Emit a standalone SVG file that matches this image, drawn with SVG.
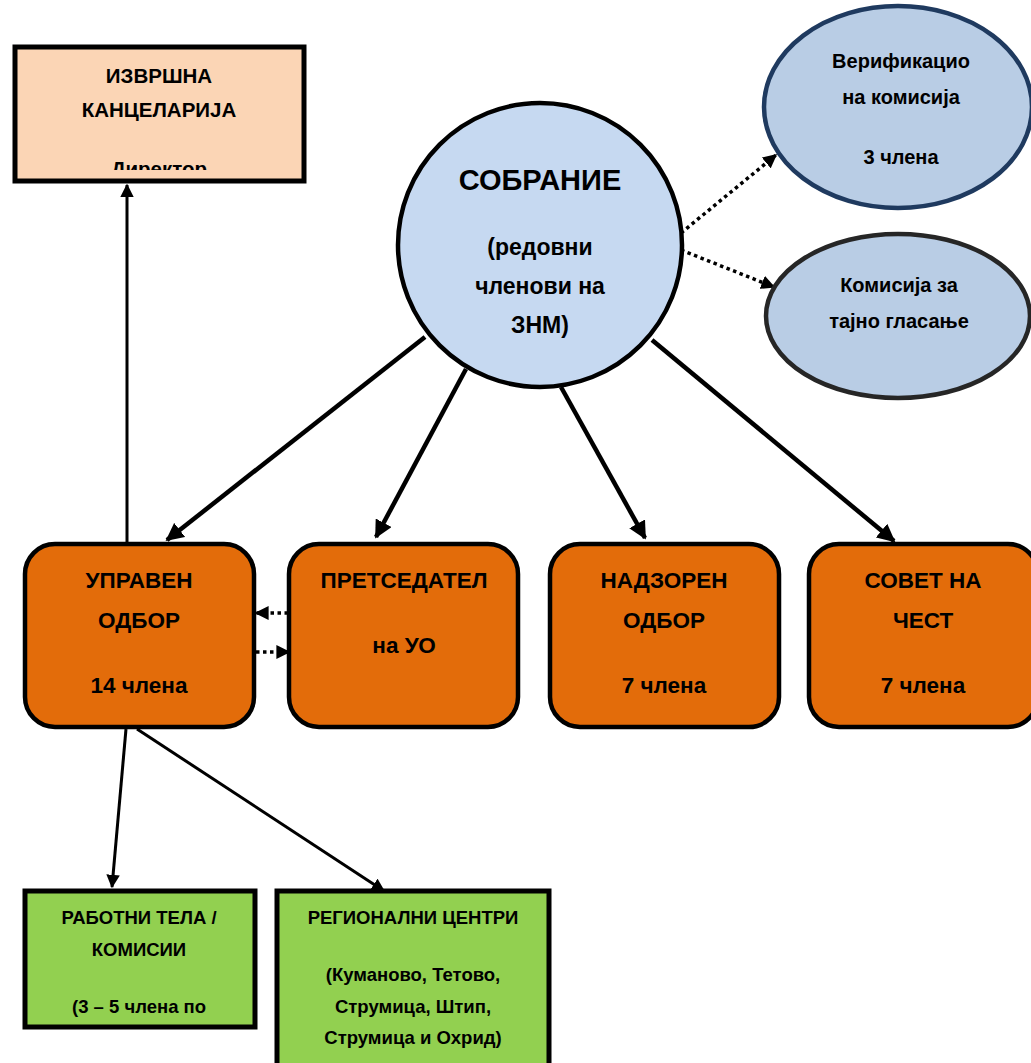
<svg xmlns="http://www.w3.org/2000/svg" width="1031" height="1063" viewBox="0 0 1031 1063">
<style>
text{font-family:"Liberation Sans","DejaVu Sans",sans-serif;font-weight:bold;fill:#000;text-anchor:middle}
.org{fill:#E36C0A;stroke:#000;stroke-width:4.5}
.grn{fill:#92D050;stroke:#000;stroke-width:5}
.c{stroke:#000;fill:none}
.dot{stroke:#000;stroke-width:3.5;stroke-dasharray:3.5 3.5;fill:none}
.o{font-size:22.5px}
.g{font-size:18.5px}
.e{font-size:20px}
</style>
<defs>
<marker id="ah" viewBox="0 0 10 10" refX="9" refY="5" markerWidth="4" markerHeight="4" orient="auto" markerUnits="strokeWidth"><path d="M0,0L10,5L0,10z" fill="#000"/></marker>
<marker id="ah2" viewBox="0 0 10 10" refX="9" refY="5" markerWidth="4.5" markerHeight="4.5" orient="auto" markerUnits="strokeWidth"><path d="M0,0L10,5L0,10z" fill="#000"/></marker>
<clipPath id="clipI"><rect x="15" y="47" width="289" height="123"/></clipPath>
</defs>

<g id="connectors">
<line class="c" x1="127" y1="543" x2="127" y2="185" stroke-width="3" marker-end="url(#ah2)"/>
<line class="c" x1="425" y1="337" x2="167" y2="540" stroke-width="4.5" marker-end="url(#ah)"/>
<line class="c" x1="466" y1="369" x2="376" y2="537" stroke-width="4.5" marker-end="url(#ah)"/>
<line class="c" x1="561" y1="387" x2="645" y2="538" stroke-width="4.5" marker-end="url(#ah)"/>
<line class="c" x1="652" y1="340" x2="894" y2="541" stroke-width="4.5" marker-end="url(#ah)"/>
<line class="c" x1="126" y1="729" x2="112" y2="887" stroke-width="3" marker-end="url(#ah2)"/>
<line class="c" x1="137" y1="729" x2="384" y2="891" stroke-width="3" marker-end="url(#ah2)"/>
<line class="dot" x1="681" y1="233" x2="776" y2="155" marker-end="url(#ah)"/>
<line class="dot" x1="681" y1="250" x2="774" y2="287" marker-end="url(#ah)"/>
<line class="dot" x1="288" y1="613" x2="256" y2="613" marker-end="url(#ah)"/>
<line class="dot" x1="256" y1="652" x2="289" y2="652" marker-end="url(#ah)"/>
</g>

<g id="izvrshna">
<rect x="15" y="47" width="289" height="134" fill="#FBD5B5" stroke="#000" stroke-width="5"/>
<g clip-path="url(#clipI)" font-size="20.5">
<text x="159" y="83">ИЗВРШНА</text>
<text x="159" y="117">КАНЦЕЛАРИЈА</text>
<text x="159" y="176">Директор</text>
</g>
</g>

<g id="sobranie">
<circle cx="540" cy="245" r="142" fill="#C6D9F1" stroke="#000" stroke-width="4.5"/>
<text x="540" y="190" font-size="29">СОБРАНИЕ</text>
<text x="540" y="255" font-size="23">(редовни</text>
<text x="540" y="294" font-size="23">членови на</text>
<text x="540" y="333" font-size="23">ЗНМ)</text>
</g>

<g id="verifikaciona">
<ellipse cx="898" cy="107" rx="134" ry="101" fill="#B9CDE5" stroke="#1F3A5F" stroke-width="4.5"/>
<text class="e" x="901" y="68">Верификацио</text>
<text class="e" x="901" y="104">на комисија</text>
<text class="e" x="901" y="164">3 члена</text>
</g>

<g id="tajno">
<ellipse cx="898" cy="316" rx="132" ry="82" fill="#B9CDE5" stroke="#262626" stroke-width="4.5"/>
<text class="e" x="899" y="292">Комисија за</text>
<text class="e" x="899" y="328">тајно гласање</text>
</g>

<g id="upraven">
<rect class="org" x="25" y="544" width="229" height="183" rx="30"/>
<text class="o" x="139" y="588">УПРАВЕН</text>
<text class="o" x="139" y="628">ОДБОР</text>
<text class="o" x="139" y="693">14 члена</text>
</g>

<g id="pretsedatel">
<rect class="org" x="289" y="544" width="229" height="183" rx="30"/>
<text class="o" x="404" y="588">ПРЕТСЕДАТЕЛ</text>
<text class="o" x="404" y="653">на УО</text>
</g>

<g id="nadzoren">
<rect class="org" x="550" y="544" width="229" height="183" rx="30"/>
<text class="o" x="664" y="588">НАДЗОРЕН</text>
<text class="o" x="664" y="628">ОДБОР</text>
<text class="o" x="664" y="693">7 члена</text>
</g>

<g id="sovet">
<rect class="org" x="809" y="544" width="229" height="183" rx="30"/>
<text class="o" x="923" y="588">СОВЕТ НА</text>
<text class="o" x="923" y="628">ЧЕСТ</text>
<text class="o" x="923" y="693">7 члена</text>
</g>

<g id="rabotni">
<rect class="grn" x="25" y="891" width="230" height="136"/>
<text class="g" x="139" y="924">РАБОТНИ ТЕЛА /</text>
<text class="g" x="139" y="956">КОМИСИИ</text>
<text class="g" x="139" y="1013">(3 – 5 члена по</text>
</g>

<g id="regionalni">
<rect class="grn" x="277" y="891" width="272" height="180"/>
<text class="g" x="413" y="924">РЕГИОНАЛНИ ЦЕНТРИ</text>
<text class="g" x="413" y="981">(Куманово, Тетово,</text>
<text class="g" x="413" y="1013">Струмица, Штип,</text>
<text class="g" x="413" y="1044">Струмица и Охрид)</text>
</g>
</svg>
